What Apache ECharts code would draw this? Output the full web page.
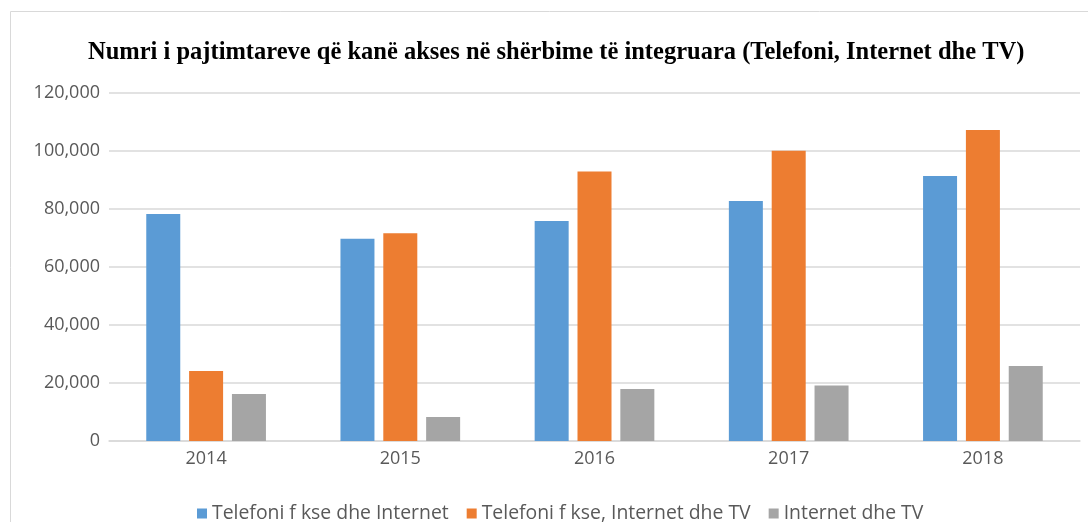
<!DOCTYPE html>
<html>
<head>
<meta charset="utf-8">
<script src="https://cdn.jsdelivr.net/npm/echarts@6/dist/echarts.min.js"></script>
<style>
  html, body { margin: 0; padding: 0; background: #fff; }
  #chart { width: 1088px; height: 522px; }
</style>
</head>
<body>
<div id="chart"></div>
<script>
// values
const years = ["2014", "2015", "2016", "2017", "2018"];
const fixedInternet = [78300, 69700, 75900, 82800, 91400];
const fixedInternetTv = [24100, 71600, 92900, 100100, 107200];
const internetTv = [16200, 8300, 17900, 19100, 25900];
const seriesNames = ["Telefoni f kse dhe Internet", "Telefoni f kse, Internet dhe TV", "Internet dhe TV"];
const colors = ["#5B9BD5", "#ED7D31", "#A5A5A5"];

const labelFont = "'Open Sans', 'Liberation Sans', sans-serif";

const chart = echarts.init(document.getElementById("chart"));

const makeBar = (name, data, i) => ({
    name: name,
    type: "bar",
    data: data,
    barWidth: 34,
    barGap: "26%",
    itemStyle: { color: colors[i] },
    animation: false
});

chart.setOption({
    animation: false,
    title: {
        text: "Numri i pajtimtareve që kanë akses në shërbime të integruara (Telefoni, Internet dhe TV)",
        left: 88,
        top: 40,
        padding: 0,
        textStyle: {
            fontFamily: "'Liberation Serif', 'Times New Roman', serif",
            fontWeight: "bold",
            fontSize: 24.5,
            color: "#000"
        }
    },
    graphic: [{
        type: "rect",
        shape: { x: 10.5, y: 11.5, width: 1100, height: 600 },
        style: { fill: "none", stroke: "#d9d9d9", lineWidth: 1 },
        silent: true
    }],
    legend: {
        data: seriesNames,
        left: 192,
        top: 499,
        icon: "rect",
        itemWidth: 10,
        itemHeight: 10,
        itemGap: 18,
        textStyle: { fontFamily: labelFont, fontSize: 19.4, color: "#595959" }
    },
    grid: { left: 109, right: 8, top: 93, bottom: 81, containLabel: false },
    xAxis: {
        type: "category",
        data: years,
        axisLine: { lineStyle: { color: "#d9d9d9", width: 1.5 } },
        axisTick: { show: false },
        axisLabel: { fontFamily: labelFont, fontSize: 18, color: "#595959", margin: 9 }
    },
    yAxis: {
        type: "value",
        min: 0,
        max: 120000,
        interval: 20000,
        axisLine: { show: false },
        axisTick: { show: false },
        splitLine: { lineStyle: { color: "#d9d9d9", width: 1.5 } },
        axisLabel: {
            fontFamily: labelFont,
            fontSize: 18,
            color: "#595959",
            margin: 9,
            formatter: v => v.toLocaleString("en-US")
        }
    },
    series: [
        makeBar(seriesNames[0], fixedInternet, 0),
        makeBar(seriesNames[1], fixedInternetTv, 1),
        makeBar(seriesNames[2], internetTv, 2)
    ]
});
</script>
</body>
</html>
